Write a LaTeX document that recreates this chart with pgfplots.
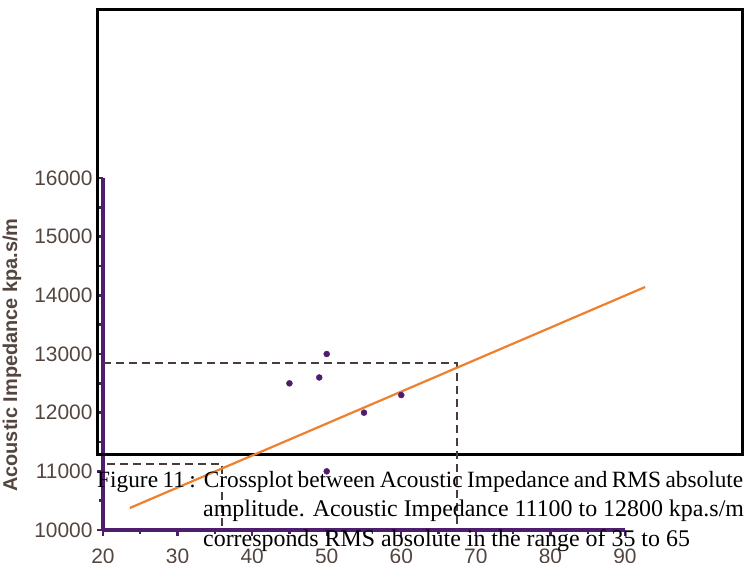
\documentclass[border=0pt]{standalone}
\usepackage{fontspec}
\setmainfont{Liberation Sans}
\newfontfamily\capfont{Liberation Serif}
\usepackage{pgfplots}
\pgfplotsset{compat=1.18}
\definecolor{axpurple}{HTML}{4E1E6E}
\definecolor{ptpurple}{HTML}{4F1C6B}
\definecolor{fitorange}{HTML}{F07F2C}
\definecolor{txtbrown}{HTML}{54453F}
\definecolor{dashbrown}{HTML}{4A3D38}
\begin{document}
\begin{tikzpicture}
\begin{axis}[
  scale only axis, width=522bp, height=352bp,
  xmin=20, xmax=90, ymin=10000, ymax=16000,
  axis lines=left, axis line style={axpurple, line width=3.2bp, -},
  clip=false,
  xtick={20,30,...,90}, ytick={10000,11000,...,16000},
  minor x tick num=1, minor y tick num=1,
  tick style={axpurple, line width=2.4bp},
  tick align=outside,
  major tick length=6bp, minor tick length=4bp,
  /pgf/number format/assume math mode=true,
  /pgf/number format/1000 sep={},
  scaled y ticks=false,
  ticklabel style={font=\fontsize{21}{21}\selectfont, text=txtbrown},
  xticklabel style={yshift=-9bp},
  yticklabel style={xshift=-1bp},
  ylabel={Acoustic Impedance kpa.s/m},
  ylabel style={font=\bfseries\fontsize{20}{20}\selectfont, text=txtbrown,
    at={(axis description cs:-0.1743,0.497)}, anchor=center},
]
\draw[line width=3bp, black] (axis cs:19.2,11295) rectangle (axis cs:105.7,18880);
\addplot[dashbrown, line width=1.8bp, dash pattern=on 8bp off 5bp] coordinates {(20,12846) (67.47,12846) (67.47,10000)};
\addplot[dashbrown, line width=1.8bp, dash pattern=on 8bp off 5bp] coordinates {(20.6,11125) (36,11125) (36,10000)};
\addplot[fitorange, line width=2.2bp] coordinates {(23.6,10375) (92.7,14142)};
\addplot[only marks, mark=*, mark size=3bp, ptpurple] coordinates {
  (45,12500) (49,12600) (50,13000) (55,12000) (60,12300) (50,11000)};
\node[anchor=base west, inner sep=0, font=\capfont\fontsize{23.4}{28}\selectfont] at (axis cs:19.2,10716) {\makebox[646bp][s]{\spaceskip=0.12em plus 1em\relax Figure 11 : Crossplot between Acoustic Impedance and RMS absolute}};
\node[anchor=base west, inner sep=0, font=\capfont\fontsize{24}{28}\selectfont] at (axis cs:33.41,10222) {amplitude. Acoustic Impedance 11100 to 12800 kpa.s/m};
\node[anchor=base west, inner sep=0, font=\capfont\fontsize{24}{28}\selectfont] at (axis cs:33.41,9727) {corresponds RMS absolute in the range of 35 to 65};
\coordinate (O) at (axis cs:20,10000);
\end{axis}
\pgfresetboundingbox
\path[use as bounding box] ([xshift=-103bp,yshift=-33bp]O) rectangle ++(744bp,563bp);
\end{tikzpicture}
\end{document}
